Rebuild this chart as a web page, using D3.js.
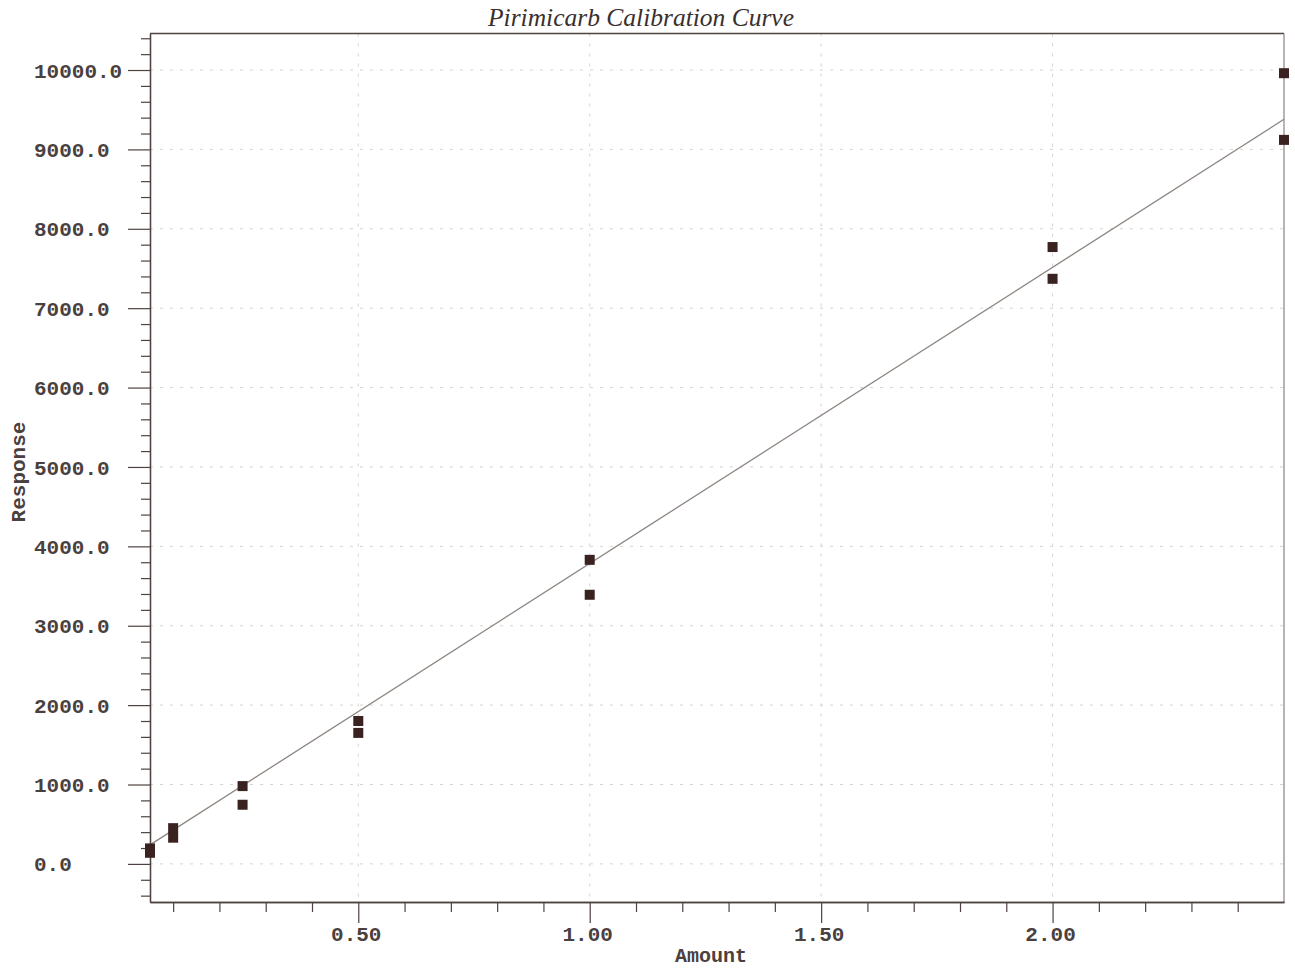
<!DOCTYPE html>
<html>
<head>
<meta charset="utf-8">
<script src="https://cdn.jsdelivr.net/npm/d3@7"></script>
<style>
  html, body { margin: 0; padding: 0; background: #fff; }
  svg { display: block; }
</style>
</head>
<body>
<svg id="chart" width="1295" height="969"></svg>
<script>
// ---- data ----
const title = "Pirimicarb Calibration Curve";
const xLabel = "Amount";
const yLabel = "Response";
const amounts   = [0.05, 0.05, 0.1, 0.1, 0.25, 0.25, 0.5, 0.5, 1.0, 1.0, 2.0, 2.0, 2.5, 2.5];
const responses = [195, 140, 450, 330, 980, 745, 1800, 1650, 3830, 3390, 7770, 7370, 9960, 9120];
const fitX = [0.05, 2.5];
const fitY = [240, 9380];
const xMajorTicks = [0.5, 1.0, 1.5, 2.0];
const xMinorTicks = [0.1,0.2,0.3,0.4,0.6,0.7,0.8,0.9,1.1,1.2,1.3,1.4,1.6,1.7,1.8,1.9,2.1,2.2,2.3,2.4];
const yMajorTicks = [0,1000,2000,3000,4000,5000,6000,7000,8000,9000,10000];
const yMinorTicks = [-400,-200,200,400,600,800,1200,1400,1600,1800,2200,2400,2600,2800,3200,3400,3600,3800,
  4200,4400,4600,4800,5200,5400,5600,5800,6200,6400,6600,6800,7200,7400,7600,7800,8200,8400,8600,8800,
  9200,9400,9600,9800,10200,10400];
const xDomain = [0.05, 2.5];
const yDomain = [-480, 10460];

// ---- layout ----
const svg = d3.select("#chart");
const plotL = 150, plotR = 1284, plotT = 33.5, plotB = 902;
const x = d3.scaleLinear().domain(xDomain).range([plotL, plotR]);
const y = d3.scaleLinear().domain(yDomain).range([plotB, plotT]);

const axisColor = "#4e4340";
const textColor = "#4a403d";
const monoFont = "'Liberation Mono', 'DejaVu Sans Mono', monospace";

// gridlines
const grid = svg.append("g").attr("stroke", "#d6d3d1").attr("stroke-width", 1)
  .attr("stroke-dasharray", "3,7");
grid.selectAll("line.h").data(yMajorTicks).join("line").attr("class", "h")
  .attr("x1", plotL).attr("x2", plotR).attr("y1", d => y(d)).attr("y2", d => y(d));
grid.selectAll("line.v").data(xMajorTicks).join("line").attr("class", "v")
  .attr("y1", plotT).attr("y2", plotB).attr("x1", d => x(d)).attr("x2", d => x(d));

// frame: top and right
svg.append("line").attr("x1", plotL).attr("x2", plotR).attr("y1", plotT).attr("y2", plotT)
  .attr("stroke", axisColor).attr("stroke-width", 1.3);
svg.append("line").attr("x1", plotR).attr("x2", plotR).attr("y1", plotT).attr("y2", plotB)
  .attr("stroke", "#8a8280").attr("stroke-width", 1.2);

// Y axis
const yAxisMajor = d3.axisLeft(y).tickValues(yMajorTicks).tickSize(22).tickFormat("").tickSizeOuter(0);
const yAxisMinor = d3.axisLeft(y).tickValues(yMinorTicks).tickSize(9).tickFormat("").tickSizeOuter(0);
const gyMaj = svg.append("g").attr("transform", `translate(${plotL},0)`).call(yAxisMajor);
const gyMin = svg.append("g").attr("transform", `translate(${plotL},0)`).call(yAxisMinor);
[gyMaj, gyMin].forEach(g => {
  g.selectAll("path").attr("stroke", axisColor).attr("stroke-width", 1.3);
  g.selectAll("line").attr("stroke", axisColor).attr("stroke-width", 1.2);
});
svg.append("g").selectAll("text").data(yMajorTicks).join("text")
  .attr("x", 34).attr("y", d => y(d)).attr("dy", "0.36em")
  .attr("text-anchor", "start")
  .attr("font-family", monoFont).attr("font-size", 21).attr("font-weight", "bold")
  .attr("fill", textColor)
  .text(d => d3.format(".1f")(d));

// X axis
const xAxisMajor = d3.axisBottom(x).tickValues(xMajorTicks).tickSize(21).tickFormat("").tickSizeOuter(0);
const xAxisMinor = d3.axisBottom(x).tickValues(xMinorTicks).tickSize(10).tickFormat("").tickSizeOuter(0);
const gxMaj = svg.append("g").attr("transform", `translate(0,${plotB})`).call(xAxisMajor);
const gxMin = svg.append("g").attr("transform", `translate(0,${plotB})`).call(xAxisMinor);
[gxMaj, gxMin].forEach(g => {
  g.selectAll("path").attr("stroke", axisColor).attr("stroke-width", 1.3);
  g.selectAll("line").attr("stroke", axisColor).attr("stroke-width", 1.2);
});
svg.append("g").selectAll("text").data(xMajorTicks).join("text")
  .attr("x", d => x(d) - 2).attr("y", 941)
  .attr("text-anchor", "middle")
  .attr("font-family", monoFont).attr("font-size", 21).attr("font-weight", "bold")
  .attr("fill", textColor)
  .text(d => d3.format(".2f")(d));

// axis titles
svg.append("text").attr("x", 711).attr("y", 962).attr("text-anchor", "middle")
  .attr("font-family", monoFont).attr("font-size", 20).attr("font-weight", "bold")
  .attr("fill", textColor).text(xLabel);
svg.append("text").attr("transform", "translate(25,472) rotate(-90)").attr("text-anchor", "middle")
  .attr("font-family", monoFont).attr("font-size", 21).attr("font-weight", "bold")
  .attr("fill", textColor).text(yLabel);

// chart title
svg.append("text").attr("x", 641).attr("y", 26).attr("text-anchor", "middle")
  .attr("font-family", "'Liberation Serif', 'Times New Roman', serif")
  .attr("font-style", "italic").attr("font-size", 25.5)
  .attr("fill", "#3a302d").text(title);

// fit line
const fitData = fitX.map((v, i) => [v, fitY[i]]);
svg.append("path").datum(fitData)
  .attr("d", d3.line().x(d => x(d[0])).y(d => y(d[1])))
  .attr("fill", "none").attr("stroke", "#8c8580").attr("stroke-width", 1.3);

// points
const pts = amounts.map((a, i) => [a, responses[i]]);
const s = 10;
svg.append("g").selectAll("rect").data(pts).join("rect")
  .attr("x", d => x(d[0]) - s / 2).attr("y", d => y(d[1]) - s / 2)
  .attr("width", s).attr("height", s)
  .attr("fill", "#3a2220");
</script>
</body>
</html>
